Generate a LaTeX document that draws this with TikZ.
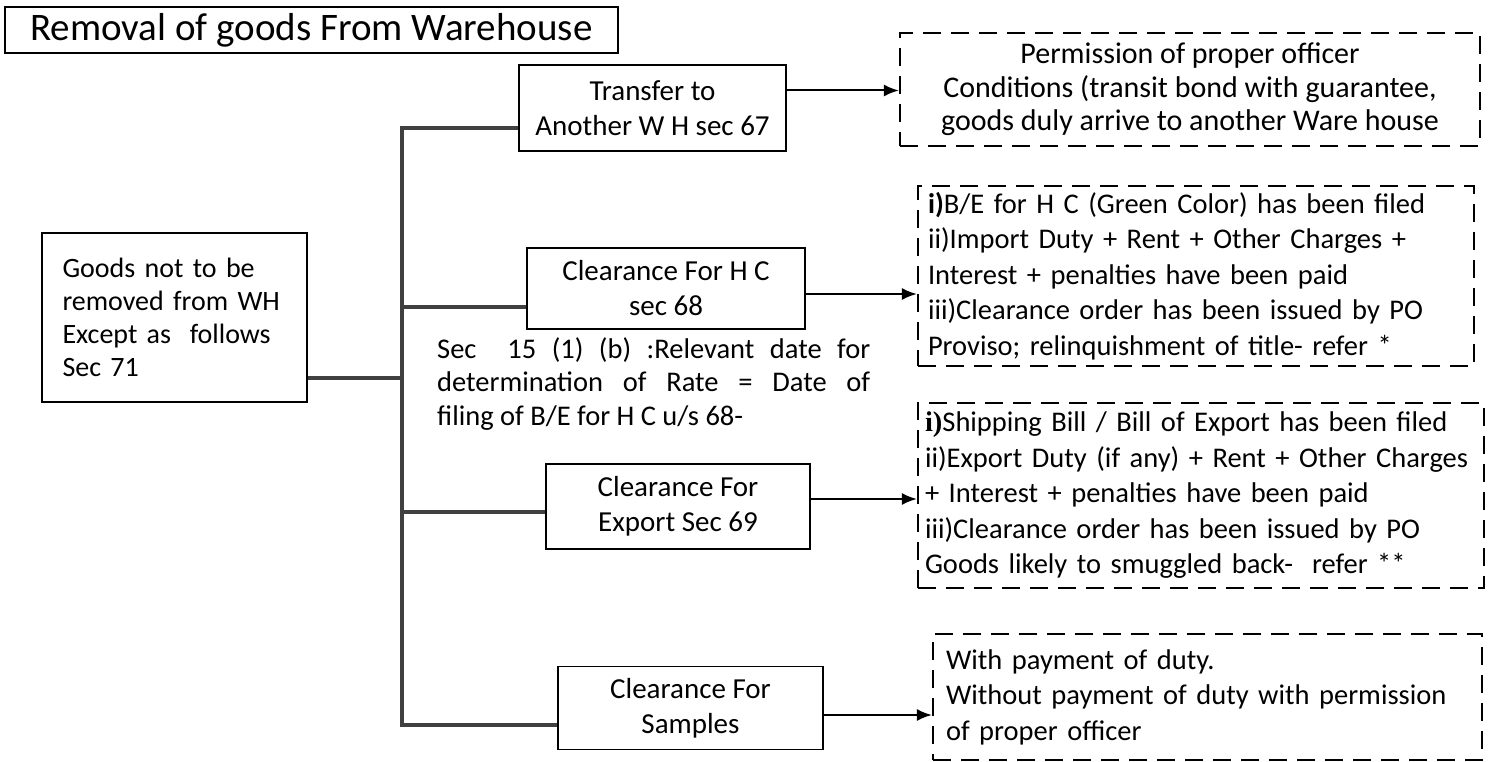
\documentclass[tikz,border=0pt]{standalone}
\usepackage{fontspec}
\setmainfont{Carlito}
\usepackage{tikz}
\usetikzlibrary{arrows.meta,calc}

\definecolor{treegrey}{HTML}{404040}

\begin{document}
\begin{tikzpicture}[
  x=1pt, y=-1pt,
  box/.style={rectangle, draw, line width=1.8pt, inner sep=0pt, align=center, font=\fontsize{29}{35}\selectfont},
  dbox/.style={rectangle, draw, dash pattern=on 18pt off 10pt, line width=2.2pt, inner xsep=10pt, inner ysep=0pt, align=left, font=\fontsize{28.5}{35.5}\selectfont},
  tree/.style={draw=treegrey, line width=3.5pt},
  link/.style={->, >={Latex[length=15pt,width=12pt]}, line width=2pt}
]
\useasboundingbox (0,0) rectangle (1493,762);

\node[box, minimum width=613pt, minimum height=46pt, font=\fontsize{39}{40}\selectfont] (title) at (311.5,30) {Removal of goods From Warehouse};

\node[box, minimum width=265pt, minimum height=169pt, align=left, text width=224pt, font=\fontsize{28}{33}\selectfont] (goods) at (174.5,317.5) {Goods not to be\\removed from WH\\Except as\ \ follows\\Sec 71};

\node[box, minimum width=267pt, minimum height=86pt] (transfer) at (652.5,108) {Transfer to\\Another W H sec 67};
\node[box, minimum width=278pt, minimum height=81pt] (hc) at (666,288.5) {Clearance For H C\\sec 68};
\node[box, minimum width=264pt, minimum height=85pt] (export) at (678,506.5) {Clearance For\\Export Sec 69};
\node[box, minimum width=265pt, minimum height=83pt] (samples) at (690.5,708) {Clearance For\\Samples};

\node[anchor=north west, inner sep=0pt, text width=433pt, align=justify, font=\fontsize{28.5}{33.5}\selectfont] (rate) at (437,337) {Sec\ \ 15 (1) (b) :Relevant date for\linebreak determination of Rate = Date of\linebreak filing of B/E for H C u/s 68-};

% dashed condition boxes
\node[dbox, minimum width=580pt, minimum height=113pt, align=center, font=\fontsize{30}{33.5}\selectfont] (dtransfer) at (1190,89.5) {Permission of proper officer\\Conditions (transit bond with guarantee,\\goods duly arrive to another Ware house};
\node[dbox, minimum width=556pt, minimum height=180pt, text width=536pt] (dhc) at (1196,276) {\textbf{i)}B/E for H C (Green Color) has been filed\\ii)Import Duty + Rent + Other Charges +\\Interest + penalties have been paid\\iii)Clearance order has been issued by PO\\Proviso; relinquishment of title- refer *};
\node[dbox, minimum width=566pt, minimum height=185pt, inner xsep=7pt, text width=552pt] (dexport) at (1201,495.5) {{\fontspec{Liberation Serif}\bfseries i)}Shipping Bill / Bill of Export has been filed\\ii)Export Duty (if any) + Rent + Other Charges\\+ Interest + penalties have been paid\\iii)Clearance order has been issued by PO\\Goods likely to smuggled back-\ \ refer **};
\node[dbox, minimum width=549pt, minimum height=126pt, inner xsep=13pt, text width=523pt] (dsamples) at (1207.5,697) {With payment of duty.\\Without payment of duty with permission\\of proper officer};

% tree of branches
\coordinate (jtransfer) at (402,128);
\coordinate (jhc) at (402,307);
\coordinate (jgoods) at (402,378);
\coordinate (jexport) at (402,512);
\coordinate (jsamples) at (402,725);
\draw[tree] (transfer.west |- jtransfer) -- (jtransfer) -- (jsamples) -- (samples.west |- jsamples);
\draw[tree] (goods.east |- jgoods) -- (jgoods);
\draw[tree] (jhc) -- (hc.west |- jhc);
\draw[tree] (jexport) -- (export.west |- jexport);

% arrows to conditions
\draw[link] (transfer.east |- 0,90.5) -- (dtransfer.west |- 0,90.5);
\draw[link] (hc.east |- 0,294) -- (dhc.west |- 0,294);
\draw[link] (export.east |- 0,499) -- (dexport.west |- 0,499);
\draw[link] (samples.east |- 0,715) -- (dsamples.west |- 0,715);

\end{tikzpicture}
\end{document}
